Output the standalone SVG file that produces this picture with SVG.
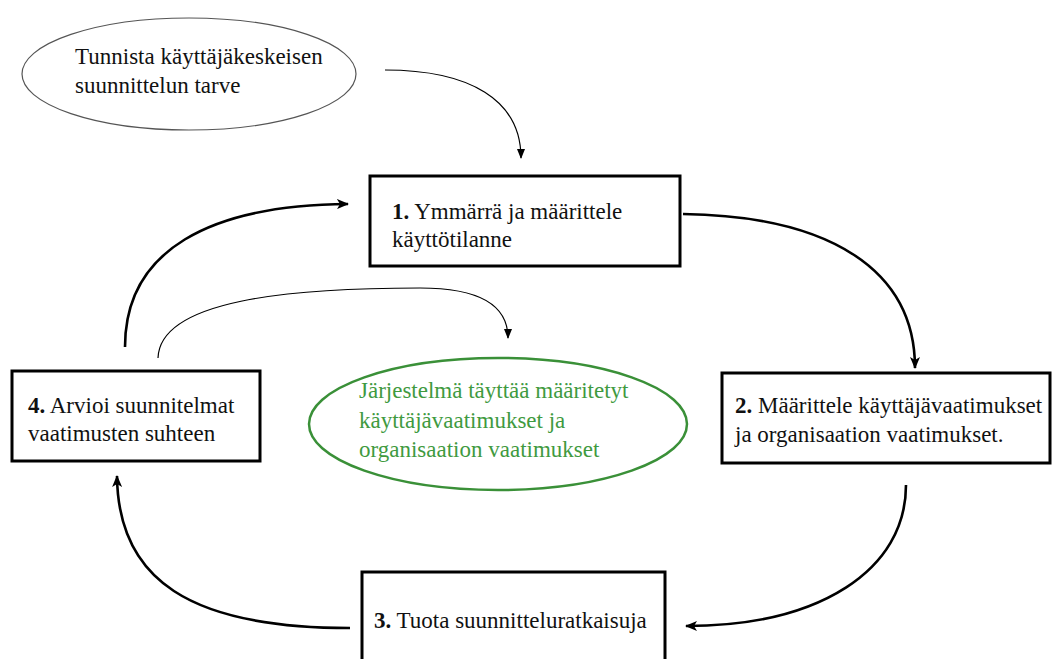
<svg xmlns="http://www.w3.org/2000/svg" width="1052" height="659" viewBox="0 0 1052 659">
<style>
text{font-family:"Liberation Serif","Times New Roman",serif;font-size:23px;fill:#111}
.box{fill:#fff;stroke:#000;stroke-width:3}
.thick{fill:none;stroke:#000;stroke-width:2.6}
.thin{fill:none;stroke:#000;stroke-width:1.2}
.g{fill:#3f9a3f}
</style>
<defs>
<marker id="ah" viewBox="0 0 12 10" refX="11" refY="5" markerWidth="12" markerHeight="10" markerUnits="userSpaceOnUse" orient="auto">
<path d="M0,0 L12,5 L0,10 L3,5 Z" fill="#000"/>
</marker>
<marker id="ahs" viewBox="0 0 10 10" refX="9" refY="5" markerWidth="10" markerHeight="10" markerUnits="userSpaceOnUse" orient="auto">
<path d="M0,1 L10,5 L0,9 Z" fill="#000"/>
</marker>
</defs>
<rect width="1052" height="659" fill="#fff"/>
<g id="connectors">
<path class="thin" d="M385,70 C470,70 521,100 521,158" marker-end="url(#ahs)"/>
<path class="thick" d="M683,214 C830,216 915,270 915,368" marker-end="url(#ah)"/>
<path class="thick" d="M906,485 C906,570 820,626 686,626" marker-end="url(#ah)"/>
<path class="thick" d="M350,628 C190,628 118,580 117,476" marker-end="url(#ah)"/>
<path class="thick" d="M125,347 C125,250 210,205 348,204" marker-end="url(#ah)"/>
<path class="thin" d="M158,358 C160,300 290,288 420,288 C480,288 508,305 508,338" marker-end="url(#ahs)"/>
</g>
<g id="start">
<ellipse cx="189" cy="74" rx="167" ry="56" fill="#fff" stroke="#555" stroke-width="1.2"/>
<text x="75" y="64">Tunnista käyttäjäkeskeisen</text>
<text x="75" y="93">suunnittelun tarve</text>
</g>
<g id="step1">
<rect class="box" x="370" y="176" width="310" height="90"/>
<text x="392" y="219"><tspan font-weight="bold">1.</tspan> Ymmärrä ja määrittele</text>
<text x="392" y="247">käyttötilanne</text>
</g>
<g id="step2">
<rect class="box" x="722" y="373" width="328" height="90"/>
<text x="735" y="413"><tspan font-weight="bold">2.</tspan> Määrittele käyttäjävaatimukset</text>
<text x="735" y="442">ja organisaation vaatimukset.</text>
</g>
<g id="step3">
<rect class="box" x="362" y="572" width="303" height="100"/>
<text x="374" y="628"><tspan font-weight="bold">3.</tspan> Tuota suunnitteluratkaisuja</text>
</g>
<g id="step4">
<rect class="box" x="12" y="371" width="248" height="90"/>
<text x="28" y="413"><tspan font-weight="bold">4.</tspan> Arvioi suunnitelmat</text>
<text x="28" y="441">vaatimusten suhteen</text>
</g>
<g id="goal">
<ellipse cx="498" cy="424" rx="189" ry="66" fill="#fff" stroke="#3a9038" stroke-width="2.5"/>
<text class="g" x="359" y="398">Järjestelmä täyttää määritetyt</text>
<text class="g" x="359" y="428">käyttäjävaatimukset ja</text>
<text class="g" x="359" y="457">organisaation vaatimukset</text>
</g>
</svg>
